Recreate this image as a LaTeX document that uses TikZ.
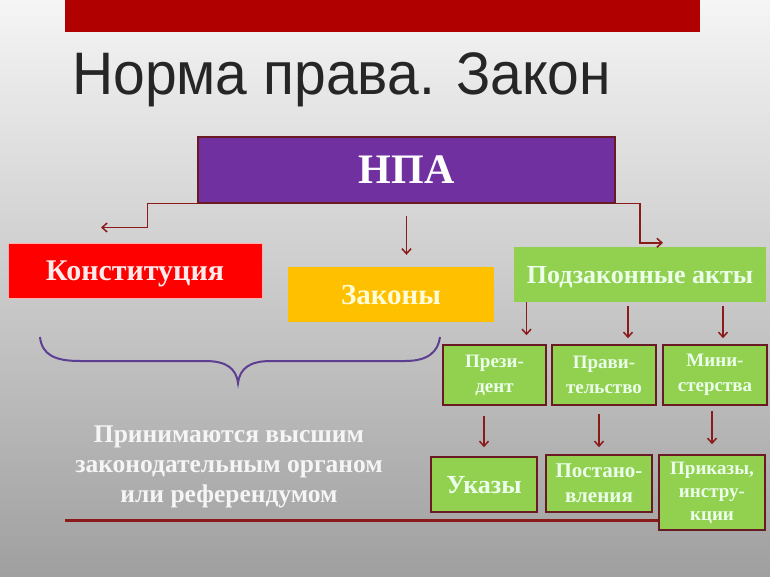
\documentclass[tikz,border=0pt]{standalone}
\usepackage{fontspec}
\setmainfont{Liberation Serif}
\newfontfamily\titlefont[FakeStretch=0.95]{Liberation Sans}
\usetikzlibrary{positioning, arrows.meta}

\definecolor{barred}{HTML}{B00000}
\definecolor{npapurple}{HTML}{7030A0}
\definecolor{konstred}{HTML}{FF0000}
\definecolor{zakgold}{HTML}{FFC000}
\definecolor{actgreen}{HTML}{92D050}
\definecolor{edgebrown}{HTML}{6A1A22}
\definecolor{arrowred}{HTML}{8B1A1A}
\definecolor{bracepurple}{HTML}{5E3E92}

\begin{document}
\begin{tikzpicture}[x=1pt, y=-1pt,
        box/.style={rectangle, align=center, inner sep=0pt, font=\bfseries},
        onerow/.style={text depth=0pt},
        smallbox/.style={box, fill=actgreen, draw=edgebrown, line width=1.5pt, minimum width=103pt, minimum height=60pt, text=green!8!white, font=\bfseries\fontsize{19}{25}\selectfont},
        arrow/.style={-{Straight Barb[length=5pt, width=9pt]}, draw=arrowred, line width=1.5pt}
    ]
        % Background
        \fill[top color=gray!8, bottom color=gray!75] (0,0) rectangle (770,577);
        \fill[barred] (65,0) rectangle (700,32);
        \node[anchor=base west, inner sep=0pt, text=black!85, font=\titlefont\fontsize{60}{60}\selectfont] (title) at (72,95) {Норма права. Закон};

        % Nodes
        \node[box, onerow, fill=npapurple, draw=edgebrown, line width=1.5pt, minimum width=417pt, minimum height=66pt, text=white, font=\bfseries\fontsize{42}{42}\selectfont] (npa) at (406.5,170) {НПА};
        \node[box, onerow, fill=konstred, draw=red!30, line width=1pt, minimum width=254pt, minimum height=55pt, text=red!8!white, font=\bfseries\fontsize{30}{30}\selectfont] (konst) at (135,270.5) {Конституция};
        \node[box, onerow, fill=zakgold, minimum width=206pt, minimum height=55pt, text=yellow!15!white, font=\bfseries\fontsize{29}{29}\selectfont] (zakony) at (391,294.5) {Законы};
        \node[box, onerow, fill=actgreen, minimum width=252pt, minimum height=55pt, text=green!8!white, font=\bfseries\fontsize{26}{26}\selectfont] (podz) at (640,274.5) {Подзаконные акты};

        \node[smallbox] (pres) at (494.5,375) {Прези-\\дент};
        \node[smallbox, minimum width=104pt] (gov) at (604,375) {Прави-\\тельство};
        \node[smallbox, minimum width=104pt] (mins) at (715,375) {Мини-\\стерства};

        \node[smallbox, onerow, minimum width=106pt, minimum height=55pt, font=\bfseries\fontsize{26}{26}\selectfont] (ukazy) at (484,484.5) {Указы};
        \node[smallbox, minimum width=106pt, minimum height=57pt, font=\bfseries\fontsize{21}{25}\selectfont] (post) at (599,483.5) {Постано-\\вления};
        \node[smallbox, minimum width=106pt, minimum height=75pt, font=\bfseries\fontsize{19}{23}\selectfont] (prik) at (712,492.5) {Приказы,\\инстру-\\кции};

        \node[align=center, text=white!92!gray, font=\bfseries\fontsize{25.5}{30}\selectfont] (note) at (229,467) {Принимаются высшим\\законодательным органом\\или референдумом};

        % Brace and line
        \draw[bracepurple, line width=2pt] (40,337) .. controls (42,355) and (55,361) .. (80,361) -- (205,361) .. controls (226,361) and (236,368) .. (238,383) .. controls (240,368) and (250,361) .. (271,361) -- (405,361) .. controls (428,361) and (438,352) .. (440,337);
        \draw[arrowred, line width=3pt] (65,520.5) -- (prik.west |- 65,520.5);

        % Arrows
        % From NPA
        \draw[arrow] (npa.south west) -- ++(-50,0) |- ([xshift=-34pt, yshift=15pt]konst.north);
        \draw[arrow] ([yshift=-12pt]npa.south) -- ([yshift=12pt]npa.south |- zakony.north);
        \draw[arrow] (npa.south east) -- ++(24,0) |- ([xshift=23pt, yshift=4pt]podz.north);

        % From Podzakonnye akty
        \draw[arrow] ([xshift=32pt]pres.north |- podz.south) -- ([xshift=32pt, yshift=9pt]pres.north);
        \draw[arrow] ([xshift=24pt, yshift=-4pt]gov.north |- podz.south) -- ([xshift=24pt, yshift=6pt]gov.north);
        \draw[arrow] ([xshift=8pt, yshift=-4pt]mins.north |- podz.south) -- ([xshift=8pt, yshift=6pt]mins.north);

        % Second row
        \draw[arrow] ([yshift=-10pt]pres.south -| ukazy.north) -- ([yshift=9pt]ukazy.north);
        \draw[arrow] ([yshift=-8pt]gov.south -| post.north) -- ([yshift=7pt]post.north);
        \draw[arrow] ([yshift=-5pt]mins.south -| prik.north) -- ([yshift=10pt]prik.north);
    \end{tikzpicture}
\end{document}
